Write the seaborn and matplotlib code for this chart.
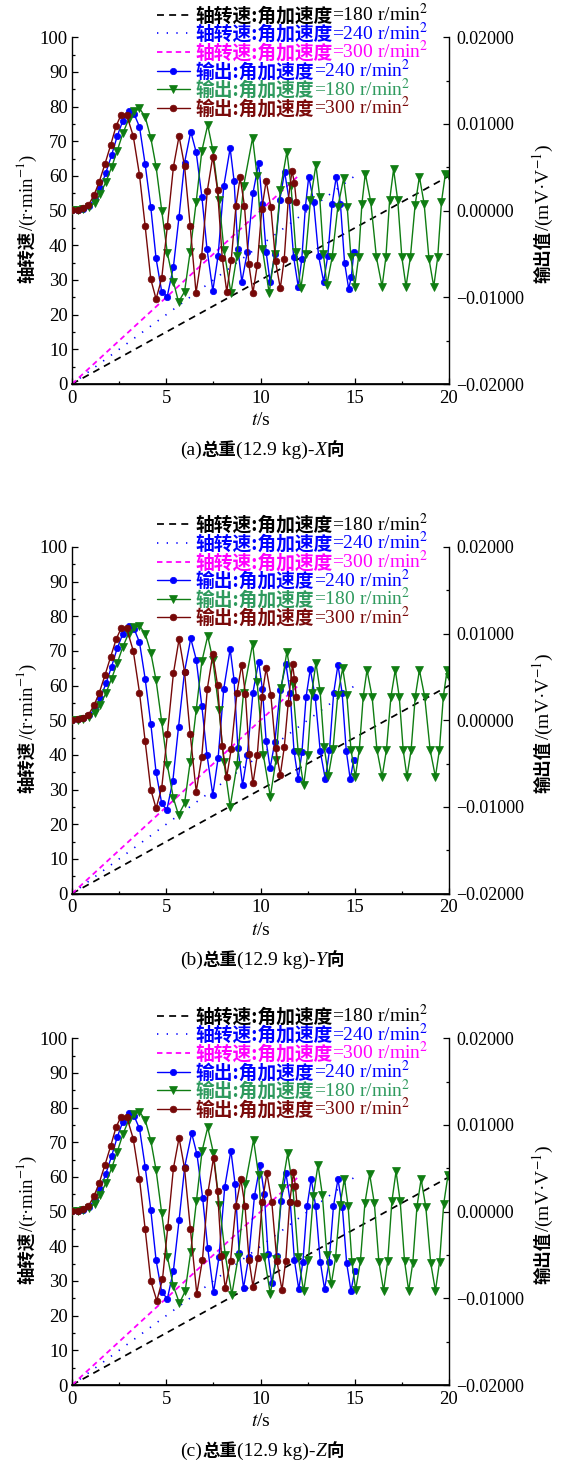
import matplotlib
matplotlib.use("Agg")
import numpy as np
import pandas as pd
import matplotlib.pyplot as plt
import seaborn as sns
from matplotlib.ticker import MultipleLocator, FuncFormatter
from matplotlib.font_manager import FontProperties

# ---------------- data ----------------
# shaft speed (r/min) ramps, left axis
t_speed_180 = [0, 20]
speed_180 = [0, 60]
t_speed_240 = [0, 15]
speed_240 = [0, 60]
t_speed_300 = [0, 12]
speed_300 = [0, 60]

# outputs, values in 1e-3 mV/V (right axis)
# ---- (a) X direction ----
red_a_t = [0, 0.3, 0.6, 0.87, 1.17, 1.45, 1.75, 2.05, 2.34, 2.6, 2.9, 3.25, 3.58, 3.88, 4.18, 4.46, 4.76, 5.06, 5.38, 5.68,
           5.97, 6.27, 6.58, 6.88, 7.18, 7.47, 7.72, 7.97, 8.21, 8.45, 8.7, 8.92, 9.15, 9.38, 9.6, 9.83, 10.07, 10.3, 10.55, 10.8,
           11.05, 11.26, 11.47, 11.67, 11.8, 11.9]
red_a_out = [0.08, 0.12, 0.28, 0.64, 1.8, 3.36, 5.4, 7.56, 9.76, 11.04, 11.04, 8.6, 4.12, -1.76, -7.92, -10.2, -7.8, -1.76, 5.04, 8.6,
             5.16, -1.76, -9.48, -5.2, 2.32, 6.24, 2.36, -5.44, -9.36, -5.64, 0.56, 3.84, 0.52, -6.16, -9.48, -6.24, 0.2, 3.44, 0.4, -5.84,
             -8.96, -5.56, 1.2, 4.6, 3.2, 1.04]
blue_a_t = [0, 0.3, 0.6, 0.9, 1.2, 1.5, 1.8, 2.1, 2.4, 2.7, 3.0, 3.3, 3.58, 3.88, 4.18, 4.46, 4.76, 5.05, 5.38, 5.68,
            5.97, 6.3, 6.59, 6.89, 7.16, 7.47, 7.75, 8.05, 8.39, 8.6, 8.8, 9.01, 9.3, 9.6, 9.9, 10.1, 10.3, 10.51, 10.76, 11.02,
            11.28, 11.52, 11.76, 12.0, 12.19, 12.38, 12.56, 12.82, 13.08, 13.35, 13.57, 13.8, 14.02, 14.24, 14.46, 14.68, 14.82, 14.95]
blue_a_out = [0.08, 0.12, 0.24, 0.56, 1.32, 2.6, 4.4, 6.4, 8.6, 10.4, 11.48, 11.12, 9.68, 5.36, 0.4, -5.52, -9.36, -9.92, -6.48, -0.68,
              5.52, 9.12, 6.72, 1.6, -4.4, -9.24, -5.2, 2.8, 7.2, 3.4, -4.4, -8.2, -4.8, 2.0, 5.48, 0.8, -4.8, -8.2, -5.0, 1.2,
              4.48, 1.2, -5.4, -8.76, -5.6, 0.4, 3.92, 1.0, -5.2, -8.2, -5.2, 0.8, 3.92, 0.8, -6.0, -9.04, -7.6, -4.8]
green_a_t = [0, 0.3, 0.6, 0.9, 1.2, 1.5, 1.8, 2.1, 2.4, 2.7, 3.0, 3.3, 3.58, 3.88, 4.18, 4.46, 4.76, 5.06, 5.38, 5.65,
             5.97, 6.27, 6.59, 6.89, 7.2, 7.47, 7.8, 8.06, 8.43, 8.75, 9.1, 9.58, 9.82, 10.1, 10.46, 10.75, 11.05, 11.4, 11.62, 11.88,
             12.14, 12.4, 12.65, 12.94, 13.14, 13.34, 13.52, 13.8, 14.1, 14.41, 14.6, 14.8, 15.0, 15.2, 15.38, 15.56, 15.85, 16.15, 16.45, 16.65,
             16.85, 17.06, 17.28, 17.5, 17.72, 17.95, 18.2, 18.43, 18.68, 18.94, 19.19, 19.4, 19.6, 19.81, 20.0]
green_a_out = [0.08, 0.08, 0.16, 0.4, 0.92, 1.92, 3.32, 5.0, 6.92, 8.92, 10.52, 11.44, 11.8, 10.84, 8.4, 5.08, 0.0, -4.92, -8.2, -10.52,
               -9.36, -4.72, 1.04, 6.92, 9.88, 7.0, 1.24, -4.52, -9.48, -5.2, 2.8, 8.4, 4.0, -4.4, -9.48, -5.0, 2.4, 6.8, 2.8, -4.8,
               -8.96, -5.0, 1.2, 5.28, 1.6, -5.0, -8.56, -5.4, 0.4, 3.72, 0.4, -5.4, -8.76, -5.4, 0.8, 4.28, 1.0, -5.4, -8.76, -5.4,
               1.2, 4.76, 1.2, -5.4, -8.76, -5.4, 0.6, 3.92, 0.8, -5.6, -8.76, -5.4, 1.0, 4.28, 4.0]

# ---- (b) Y direction ----
red_b_t = [0, 0.3, 0.6, 0.87, 1.17, 1.45, 1.75, 2.05, 2.34, 2.6, 2.9, 3.25, 3.58, 3.88, 4.18, 4.46, 4.76, 5.06, 5.38, 5.68,
           5.97, 6.27, 6.59, 6.88, 7.18, 7.47, 7.72, 7.97, 8.21, 8.45, 8.75, 9.0, 9.2, 9.4, 9.6, 9.83, 10.07, 10.3, 10.55, 10.8,
           11.05, 11.26, 11.47, 11.7, 11.8, 11.9]
red_b_out = [0.08, 0.12, 0.28, 0.64, 1.72, 3.2, 5.2, 7.32, 9.32, 10.6, 10.6, 8.0, 3.2, -2.4, -8.0, -10.16, -7.8, -1.6, 5.4, 9.36,
             5.6, -1.6, -8.24, -4.28, 3.64, 7.6, 4.08, -3.0, -6.52, -3.28, 3.16, 6.4, 3.0, -3.84, -7.28, -4.0, 2.68, 6.0, 2.88, -3.24,
             -6.32, -3.12, 2.0, 6.48, 4.8, 2.72]
blue_b_t = [0, 0.3, 0.6, 0.9, 1.2, 1.5, 1.8, 2.1, 2.4, 2.7, 3.0, 3.3, 3.58, 3.88, 4.18, 4.46, 4.76, 5.03, 5.35, 5.65,
            5.97, 6.3, 6.59, 6.89, 7.16, 7.47, 7.75, 8.05, 8.39, 8.6, 8.8, 9.05, 9.3, 9.6, 9.9, 10.1, 10.3, 10.51, 10.76, 11.05,
            11.35, 11.57, 11.78, 12.0, 12.2, 12.42, 12.64, 12.9, 13.17, 13.44, 13.66, 13.88, 14.11, 14.33, 14.55, 14.76, 14.94]
blue_b_out = [0.08, 0.12, 0.24, 0.56, 1.28, 2.52, 4.24, 6.2, 8.32, 10.0, 10.88, 10.52, 9.0, 4.8, -0.4, -6.0, -9.6, -10.36, -7.0, -0.8,
              5.6, 9.44, 7.0, 1.6, -4.0, -8.6, -4.4, 3.6, 8.2, 4.6, -3.2, -7.48, -4.0, 3.2, 6.76, 3.6, -2.4, -5.52, -2.52, 3.48,
              6.48, 3.2, -3.6, -6.8, -3.64, 2.72, 5.88, 2.72, -3.6, -6.8, -3.48, 3.12, 6.4, 3.12, -3.52, -6.8, -4.6]
green_b_t = [0, 0.3, 0.6, 0.9, 1.2, 1.5, 1.8, 2.1, 2.4, 2.7, 3.0, 3.3, 3.58, 3.88, 4.18, 4.46, 4.76, 5.06, 5.38, 5.65,
             5.97, 6.27, 6.59, 6.89, 7.2, 7.47, 7.8, 8.06, 8.39, 8.75, 9.1, 9.58, 9.82, 10.15, 10.52, 10.82, 11.1, 11.4, 11.7, 12.0,
             12.29, 12.5, 12.72, 12.94, 13.16, 13.38, 13.6, 13.85, 14.1, 14.36, 14.58, 14.8, 15.03, 15.24, 15.45, 15.65, 15.92, 16.18, 16.45, 16.68,
             16.92, 17.15, 17.36, 17.57, 17.77, 17.99, 18.21, 18.43, 18.71, 19.0, 19.28, 19.49, 19.7, 19.9, 20.0]
green_b_out = [0.08, 0.08, 0.16, 0.4, 0.88, 1.8, 3.12, 4.8, 6.6, 8.48, 10.0, 10.72, 10.88, 10.0, 7.8, 4.6, -0.2, -5.2, -9.0, -10.92,
               -9.6, -4.8, 1.2, 6.8, 9.72, 7.0, 1.2, -4.8, -9.96, -5.2, 3.2, 8.8, 4.4, -4.0, -8.8, -4.6, 3.76, 7.92, 4.16, -3.64,
               -7.48, -3.96, 3.12, 6.64, 3.4, -3.12, -6.4, -3.28, 2.92, 6.0, 2.88, -3.4, -6.52, -3.44, 2.72, 5.8, 2.72, -3.44, -6.52, -3.44,
               2.72, 5.8, 2.72, -3.44, -6.52, -3.44, 2.72, 5.8, 2.72, -3.44, -6.52, -3.44, 2.72, 5.8, 5.0]

# ---- (c) Z direction ----
red_c_t = [0, 0.3, 0.6, 0.87, 1.17, 1.45, 1.75, 2.05, 2.34, 2.6, 2.9, 3.25, 3.58, 3.88, 4.18, 4.5, 4.8, 5.08, 5.38, 5.68,
           5.97, 6.28, 6.62, 6.92, 7.22, 7.51, 7.72, 7.93, 8.13, 8.41, 8.69, 8.96, 9.18, 9.39, 9.6, 9.85, 10.1, 10.34, 10.6, 10.87,
           11.14, 11.34, 11.55, 11.75, 11.85, 11.93]
red_c_out = [0.08, 0.12, 0.28, 0.64, 1.8, 3.36, 5.4, 7.56, 9.76, 10.96, 10.96, 8.4, 3.8, -2.0, -8.0, -10.28, -7.8, -1.8, 5.0, 8.52,
             5.0, -2.0, -9.48, -5.56, 2.32, 6.24, 2.4, -5.08, -8.84, -5.68, 0.6, 3.72, 0.6, -5.56, -8.64, -5.36, 1.16, 4.44, 1.08, -5.68,
             -9.04, -5.64, 1.12, 4.52, 3.0, 0.96]
blue_c_t = [0, 0.3, 0.6, 0.9, 1.2, 1.5, 1.8, 2.1, 2.4, 2.7, 3.0, 3.3, 3.58, 3.88, 4.18, 4.46, 4.76, 5.06, 5.38, 5.68,
            5.98, 6.35, 6.63, 6.93, 7.2, 7.51, 7.8, 8.1, 8.43, 8.65, 8.87, 9.1, 9.38, 9.68, 9.98, 10.2, 10.4, 10.6, 10.85, 11.1,
            11.35, 11.58, 11.8, 12.03, 12.25, 12.47, 12.69, 12.93, 13.17, 13.4, 13.64, 13.87, 14.11, 14.34, 14.57, 14.8, 15.0]
blue_c_out = [0.08, 0.12, 0.24, 0.56, 1.32, 2.6, 4.4, 6.4, 8.6, 10.4, 11.36, 11.0, 9.6, 5.2, 0.2, -5.6, -9.28, -10.04, -6.8, -1.0,
              5.2, 9.04, 6.6, 1.6, -4.2, -9.32, -5.2, 2.8, 7.04, 3.2, -4.8, -8.8, -5.2, 1.8, 5.4, 2.04, -4.84, -8.28, -5.08, 1.28,
              4.44, 1.08, -5.6, -8.96, -5.76, 0.6, 3.76, 0.6, -5.76, -8.96, -5.76, 0.6, 3.76, 0.56, -5.92, -9.16, -6.8]
green_c_t = [0, 0.3, 0.6, 0.9, 1.2, 1.5, 1.8, 2.1, 2.4, 2.7, 3.0, 3.3, 3.58, 3.88, 4.18, 4.46, 4.76, 5.06, 5.38, 5.7,
             6.0, 6.3, 6.6, 6.9, 7.2, 7.5, 7.82, 8.13, 8.48, 8.82, 9.2, 9.63, 9.9, 10.2, 10.52, 10.83, 11.13, 11.44, 11.72, 12.0,
             12.29, 12.54, 12.8, 13.05, 13.28, 13.52, 13.75, 13.98, 14.22, 14.45, 14.65, 14.85, 15.05, 15.3, 15.54, 15.79, 16.04, 16.28, 16.53, 16.75,
             16.97, 17.19, 17.41, 17.64, 17.86, 18.08, 18.3, 18.52, 18.77, 19.03, 19.28, 19.5, 19.72, 19.95, 20.0]
green_c_out = [0.08, 0.08, 0.16, 0.4, 0.92, 1.92, 3.32, 5.0, 6.92, 8.92, 10.52, 11.28, 11.52, 10.6, 8.2, 4.8, -0.2, -5.2, -8.6, -10.56,
               -9.2, -4.6, 1.2, 7.0, 9.72, 6.8, 0.8, -5.0, -9.56, -5.2, 3.2, 8.28, 4.2, -5.2, -9.48, -5.44, 2.68, 6.72, 2.76, -5.2,
               -9.2, -5.56, 1.76, 5.4, 1.96, -4.96, -8.4, -5.36, 0.76, 3.8, 0.6, -5.8, -9.0, -5.68, 1.0, 4.32, 0.96, -5.76, -9.12, -5.68,
               1.2, 4.64, 1.2, -5.68, -9.12, -5.88, 0.56, 3.76, 0.52, -5.92, -9.12, -5.8, 0.92, 4.24, 4.0]

legend_cjk = ["轴转速:角加速度", "轴转速:角加速度", "轴转速:角加速度",
              "输出:角加速度", "输出:角加速度", "输出:角加速度"]
legend_suffix = ["=180 r/min$^2$", "=240 r/min$^2$", "=300 r/min$^2$",
                 "=240 r/min$^2$", "=180 r/min$^2$", "=300 r/min$^2$"]
captions = [("(a)", "X"), ("(b)", "Y"), ("(c)", "Z")]
right_ticks = [-0.02, -0.01, 0.0, 0.01, 0.02]

# ---------------- style ----------------
sns.set_theme(style="white", rc={"axes.edgecolor": "black", "text.color": "black",
                                 "xtick.color": "black", "ytick.color": "black",
                                 "axes.labelcolor": "black"})
plt.rcParams["font.family"] = ["Liberation Serif", "Noto Sans CJK SC"]
plt.rcParams["mathtext.fontset"] = "stix"
plt.rcParams["axes.unicode_minus"] = True

W, H = 564, 1465
fig = plt.figure(figsize=(W / 100, H / 100), dpi=100)
fig.patch.set_facecolor("white")
renderer = fig.canvas.get_renderer()

SERIF = FontProperties(family="Liberation Serif", size=13.5)
SERIF_L = FontProperties(family="Liberation Serif", size=14)
SERIF_I = FontProperties(family="Liberation Serif", style="italic", size=14)
CJK = FontProperties(family="Noto Sans CJK SC", weight="bold", size=13.5)
CJK_LAB = FontProperties(family="Noto Sans CJK SC", weight="bold", size=12.5)

C_BLUE = "#0000ff"
C_MAG = "#ff00ff"
C_GREEN = "#0f7d12"
C_RED = "#760808"
text_colors = ["black", C_BLUE, C_MAG, C_BLUE, "#2e9a5e", "#7a0a0a"]

AX_L, AX_R, AX_H = 72, 449, 346.7
offsets = [0.0, 509.6, 1001.0]

panel_outputs = [
    [(blue_a_t, blue_a_out), (green_a_t, green_a_out), (red_a_t, red_a_out)],
    [(blue_b_t, blue_b_out), (green_b_t, green_b_out), (red_b_t, red_b_out)],
    [(blue_c_t, blue_c_out), (green_c_t, green_c_out), (red_c_t, red_c_out)],
]
out_styles = [(C_BLUE, "o", 4.6), (C_GREEN, "v", 5.6), (C_RED, "o", 4.8)]
speed_styles = [(t_speed_180, speed_180, "black", (4, 3), 1.25),
                (t_speed_240, speed_240, C_BLUE, (0.8, 5), 1.2),
                (t_speed_300, speed_300, C_MAG, (3, 2.2), 1.3)]


def fx(x):
    return x / W


def fy(y):
    return 1 - y / H


def stack_h(x_center, y_base, pieces):
    texts, widths = [], []
    for s, fp in pieces:
        t = fig.text(0, fy(y_base), s, fontproperties=fp, ha="left", va="baseline")
        widths.append(t.get_window_extent(renderer).width)
        texts.append(t)
    x = x_center - sum(widths) / 2
    for t, w in zip(texts, widths):
        t.set_x(fx(x))
        x += w


def stack_v(x_center, y_bottom, pieces):
    y = y_bottom
    for s, fp in pieces:
        t = fig.text(fx(x_center), fy(y), s, fontproperties=fp, rotation=90,
                     ha="center", va="bottom")
        y -= t.get_window_extent(renderer).height


legends = []
for i in range(3):
    off = offsets[i]
    top = 37.3 + off
    ax = fig.add_axes([fx(AX_L), fy(top + AX_H), (AX_R - AX_L) / W, AX_H / H])
    ax.set_facecolor("none")
    for t, s, col, dash, lw in speed_styles:
        sns.lineplot(x=t, y=s, ax=ax, color=col, lw=lw, estimator=None, sort=False,
                     errorbar=None, legend=False)
        ax.get_lines()[-1].set_dashes(dash)
    ax.set_xlim(0, 20)
    ax.set_ylim(0, 100)
    ax.xaxis.set_major_locator(MultipleLocator(5))
    ax.xaxis.set_minor_locator(MultipleLocator(2.5))
    ax.yaxis.set_major_locator(MultipleLocator(10))
    ax.yaxis.set_minor_locator(MultipleLocator(5))
    ax.tick_params(axis="both", which="both", direction="in", left=True, bottom=True,
                   top=False, right=False, width=0.9)
    ax.tick_params(which="major", length=4.5)
    ax.tick_params(which="minor", length=2.5)
    ax.tick_params(axis="y", pad=3)
    ax.tick_params(axis="x", pad=4)
    for lab in ax.get_xticklabels() + ax.get_yticklabels():
        lab.set_fontproperties(SERIF)
    ax.spines["top"].set_visible(False)
    ax.spines["right"].set_visible(False)
    for sp in ("left", "bottom"):
        ax.spines[sp].set_linewidth(1.0)
    ax.set_xlabel(r"$t$/s", fontproperties=SERIF_L)
    ax.xaxis.set_label_coords(0.5, -(412 - 384) / AX_H)
    ax.set_ylabel("")

    ax2 = ax.twinx()
    for (t, v), (col, mk, ms) in zip(panel_outputs[i], out_styles):
        sns.lineplot(x=t, y=np.array(v) * 1e-3, ax=ax2, color=col, marker=mk, markersize=ms,
                     markeredgecolor=col, markeredgewidth=0.5, lw=1.0, estimator=None,
                     sort=False, errorbar=None, legend=False)
    ax2.set_ylim(-0.02, 0.02)
    ax2.set_yticks(right_ticks)
    ax2.yaxis.set_minor_locator(MultipleLocator(0.005))
    ax2.yaxis.set_major_formatter(FuncFormatter(
        lambda v, p: "0.00000" if abs(v) < 1e-12 else f"{v:.5f}".replace("-", "\u2212")))
    ax2.tick_params(axis="y", which="both", direction="in", right=True, left=False,
                    width=0.9, pad=5)
    ax2.tick_params(which="major", length=4.5)
    ax2.tick_params(which="minor", length=2.5)
    for lab in ax2.get_yticklabels():
        lab.set_fontproperties(FontProperties(family="Liberation Serif", size=13))
    ax2.spines["top"].set_visible(False)
    ax2.spines["left"].set_visible(False)
    ax2.spines["right"].set_linewidth(1.0)
    ax2.set_ylabel("")

    handles = ax.get_lines()[:3] + ax2.get_lines()[:3]
    leg = ax2.legend(handles, legend_cjk, loc="upper left",
                     bbox_to_anchor=(fx(157), fy(top - 31.0)), bbox_transform=fig.transFigure,
                     frameon=False, prop=CJK, handlelength=1.75, handletextpad=0.28,
                     labelspacing=-0.02, borderpad=0, borderaxespad=0, numpoints=1)
    for txt, c in zip(leg.get_texts(), text_colors):
        txt.set_color(c)
    legends.append(leg)

    # axis titles
    stack_v(27, 283 + off, [("轴转速", CJK_LAB), ("/(r·min$^{-1}$)", SERIF)])
    stack_v(543, 283 + off, [("输出值", CJK_LAB), ("/(mV·V$^{-1}$)", SERIF_L)])

    letter, axis_name = captions[i]
    stack_h(262, 455 + off, [(letter, SERIF_L), ("总重", CJK_LAB), ("(12.9 kg)-", SERIF_L),
                             (axis_name, SERIF_I), ("向", CJK_LAB)])

fig.canvas.draw()
for leg in legends:
    for txt, suf, c in zip(leg.get_texts(), legend_suffix, text_colors):
        bb = txt.get_window_extent(renderer)
        base_y = txt.get_transform().transform((0, 0))[1]
        fig.text(bb.x1 / W, base_y / H, suf, fontproperties=SERIF_L, color=c,
                 ha="left", va="baseline")

fig.savefig("out.png", dpi=100, facecolor="white")
